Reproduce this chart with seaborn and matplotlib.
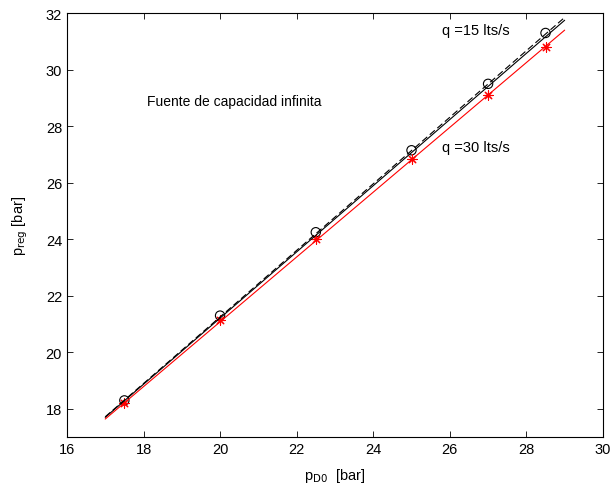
import numpy as np
import pandas as pd
import matplotlib
matplotlib.use("Agg")
import matplotlib.pyplot as plt
import seaborn as sns

# Measured regulated pressure vs. initial pressure, infinite-capacity source
p_d0 = [17.5, 20.0, 22.5, 25.0, 27.0, 28.5]
p_reg_q15 = [18.3, 21.3, 24.25, 27.15, 29.5, 31.3]
p_reg_q30 = [18.2, 21.15, 24.0, 26.85, 29.1, 30.8]

# Fitted straight lines (end points over the fitted range)
fit_x = [17.0, 29.0]
fit_q15 = [17.70, 31.75]
fit_q15_alt = [17.72, 31.85]
fit_q30 = [17.64, 31.40]

sns.set_theme(style="white")
plt.rcParams["font.family"] = ["Liberation Sans", "DejaVu Sans"]
plt.rcParams.update({"text.color": "black", "axes.labelcolor": "black",
                     "xtick.color": "black", "ytick.color": "black"})

fig = plt.figure(figsize=(6.14, 4.89), dpi=100)
ax = fig.add_axes([0.109, 0.104, 0.873, 0.867])

pts = pd.DataFrame({"p_d0": p_d0, "q15": p_reg_q15, "q30": p_reg_q30})
fits = pd.DataFrame({"x": fit_x, "q15": fit_q15, "q15b": fit_q15_alt, "q30": fit_q30})

sns.lineplot(data=fits, x="x", y="q15b", ax=ax, color="black", lw=0.8,
             linestyle=(0, (6, 3)))
sns.lineplot(data=fits, x="x", y="q15", ax=ax, color="black", lw=0.8)
sns.lineplot(data=fits, x="x", y="q30", ax=ax, color="red", lw=0.8)
sns.scatterplot(data=pts, x="p_d0", y="q15", ax=ax, marker="o", s=45,
                facecolors="none", edgecolor="black", linewidth=0.8)
sns.scatterplot(data=pts, x="p_d0", y="q30", ax=ax, marker=(8, 2, 0), s=45,
                color="red", edgecolor="red", linewidth=0.8)

ax.set_xlim(16, 30)
ax.set_ylim(17, 32)
ax.set_xticks(np.arange(16, 31, 2))
ax.set_yticks(np.arange(18, 33, 2))

ax.text(25.8, 31.4, "q =15 lts/s", fontsize=10.5, va="center", ha="left")
ax.text(25.8, 27.25, "q =30 lts/s", fontsize=10.5, va="center", ha="left")
ax.text(18.1, 28.9, "Fuente de capacidad infinita", fontsize=10, va="center", ha="left")

ax.set_xlabel(r"p$_{\mathrm{D0}}$  [bar]", fontsize=10.5, labelpad=7)
ax.set_ylabel(r"p$_{\mathrm{reg}}$ [bar]", fontsize=10.5, labelpad=11)

for s in ax.spines.values():
    s.set_visible(True)
    s.set_color("black")
    s.set_linewidth(0.8)
ax.tick_params(direction="in", length=4, width=0.6, colors="black",
               labelsize=10.5, top=True, right=True, bottom=True, left=True)
ax.grid(False)

fig.savefig("out.png", dpi=100)
